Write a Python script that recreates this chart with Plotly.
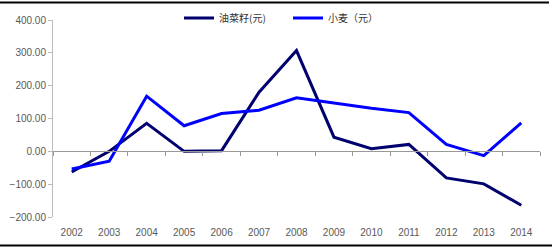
import plotly.graph_objects as go

years = ["2002", "2003", "2004", "2005", "2006", "2007", "2008",
         "2009", "2010", "2011", "2012", "2013", "2014"]
rapeseed = [-63, 0, 85, 0, 2, 180, 307, 43, 8, 21, -81, -99, -164]
wheat = [-54, -30, 168, 78, 115, 125, 163, 147, 131, 118, 21, -13, 87]
name_rapeseed = "油菜籽(元)"
name_wheat = "小麦（元）"
y_ticks = [-200, -100, 0, 100, 200, 300, 400]

W, H = 552, 249
L, R, T, B = 53, 12, 20, 32
zero_frac = (0 - (-200)) / (400 - (-200))

fig = go.Figure()
fig.add_trace(go.Scatter(x=years, y=rapeseed, name=name_rapeseed, mode="lines",
                         line=dict(color="#00006e", width=3)))
fig.add_trace(go.Scatter(x=years, y=wheat, name=name_wheat, mode="lines",
                         line=dict(color="#0000FF", width=3)))
# helper trace for the axis drawn on the zero line
fig.add_trace(go.Scatter(x=years, y=[None] * len(years), xaxis="x2", yaxis="y",
                         showlegend=False, hoverinfo="skip"))

fig.update_layout(
    width=W, height=H,
    margin=dict(l=L, r=R, t=T, b=B, autoexpand=False),
    plot_bgcolor="white", paper_bgcolor="white",
    font=dict(family="Liberation Sans, Arial, sans-serif", size=10, color="#595959"),
    showlegend=True,
    legend=dict(orientation="h", xref="container", yref="container",
                x=179 / W, y=1 - 18 / H, xanchor="left", yanchor="middle",
                font=dict(family="Noto Sans CJK SC", size=10, color="#333333"),
                itemwidth=30, tracegroupgap=0, bgcolor="rgba(0,0,0,0)",
                entrywidth=64, entrywidthmode="pixels"),
    xaxis=dict(type="category", showgrid=False, showline=False, zeroline=False,
               ticks="outside", ticklen=6, tickcolor="rgba(0,0,0,0)",
               tickfont=dict(size=10, color="#595959"), range=[-0.5, 12.5]),
    xaxis2=dict(type="category", overlaying="x", anchor="free", position=zero_frac,
                side="bottom", showline=True, linecolor="#999999", linewidth=1,
                ticks="outside", ticklen=4, tickcolor="#999999", tickson="boundaries",
                showticklabels=False, showgrid=False, range=[-0.5, 12.5], matches="x"),
    yaxis=dict(range=[-200, 400], tickvals=y_ticks, tickformat=".2f",
               showgrid=False, zeroline=False, showline=True, linecolor="#bbbbbb",
               linewidth=1, ticks="outside", ticklen=4, tickcolor="#bbbbbb",
               tickfont=dict(size=10, color="#595959")),
    shapes=[
        dict(type="line", xref="paper", yref="paper", x0=-L / (W - L - R), x1=(549 - L) / (W - L - R),
             y0=1 + (T - 2.5) / (H - T - B), y1=1 + (T - 2.5) / (H - T - B),
             line=dict(color="black", width=2)),
        dict(type="line", xref="paper", yref="paper", x0=-L / (W - L - R), x1=1 + R / (W - L - R),
             y0=-(B - 3.5) / (H - T - B), y1=-(B - 3.5) / (H - T - B),
             line=dict(color="black", width=2)),
    ],
)

fig.write_html("out.html")
